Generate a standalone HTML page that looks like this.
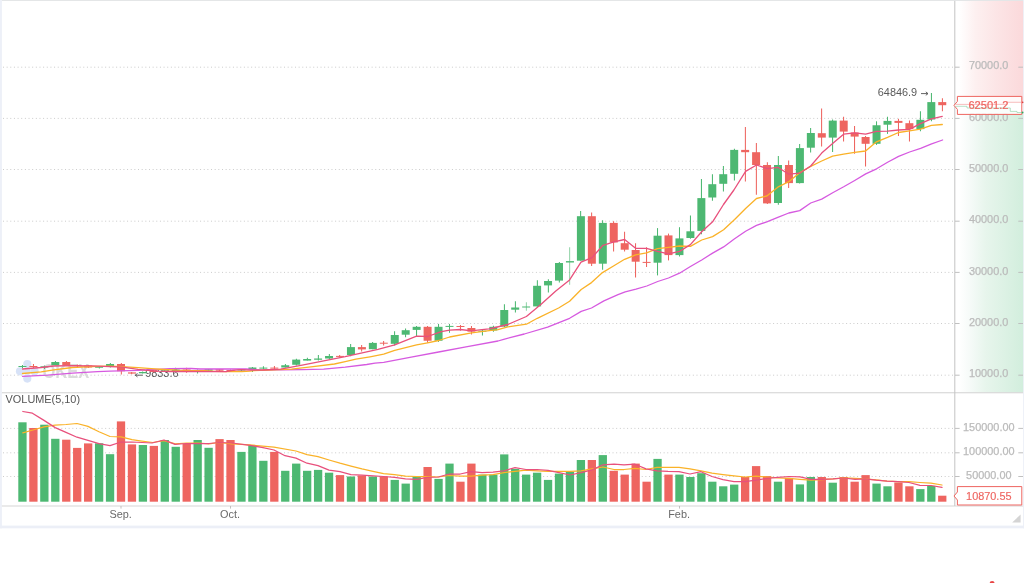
<!DOCTYPE html>
<html lang="en"><head><meta charset="utf-8"><title>Kline chart</title>
<style>
html,body{margin:0;padding:0;background:#fff;}
body{width:1024px;height:583px;overflow:hidden;position:relative;font-family:"Liberation Sans",Arial,sans-serif;}
svg{position:absolute;left:0;top:0;display:block;}
svg text{font-family:"Liberation Sans",Arial,sans-serif;font-size:10.9px;}
</style></head><body>
<svg width="1024" height="583" viewBox="0 0 1024 583">
<defs>
<linearGradient id="gr" x1="0" y1="0" x2="1" y2="0"><stop offset="0" stop-color="#ffffff"/><stop offset="0.06" stop-color="#ffffff"/><stop offset="0.3" stop-color="#fdf0f0"/><stop offset="0.6" stop-color="#fce5e6"/><stop offset="1" stop-color="#fbd9db"/></linearGradient>
<linearGradient id="gg" x1="0" y1="0" x2="1" y2="0"><stop offset="0" stop-color="#ffffff"/><stop offset="0.06" stop-color="#ffffff"/><stop offset="0.2" stop-color="#f7fbf9"/><stop offset="0.45" stop-color="#e7f5ec"/><stop offset="1" stop-color="#d2eedd"/></linearGradient>
</defs>
<rect x="0" y="0" width="1024" height="583" fill="#ffffff"/>
<rect x="0" y="0" width="1.9" height="528.3" fill="#edf0f8"/>
<rect x="1023.1" y="0" width="0.9" height="528.3" fill="#edf0f8"/>
<rect x="1.9" y="0" width="1021.2" height="0.95" fill="#e3e5e6"/>
<rect x="0" y="525.6" width="1024" height="2.7" fill="#eceff7"/>
<path d="M955,1 H1023.1 V102.3 H1007 V104.4 H955 Z" fill="url(#gr)"/>
<path d="M955,106.3 H967 V108 H1010.3 V111.4 H1017 V112.5 H1023.1 V392.3 H955 Z" fill="url(#gg)"/>
<rect x="1.9" y="392.3" width="1021.2" height="0.95" fill="#cfcfcf"/>
<rect x="1.9" y="505.4" width="1021.2" height="1.2" fill="#dcdcdc"/>
<rect x="954.3" y="0.9" width="1" height="505" fill="#c4c4c4"/>
<g stroke="#c6c6c6" stroke-width="0.95" stroke-dasharray="0.95 2.7" fill="none">
<line x1="3" y1="67.2" x2="953" y2="67.2"/>
<line x1="3" y1="118.4" x2="953" y2="118.4"/>
<line x1="3" y1="169.5" x2="953" y2="169.5"/>
<line x1="3" y1="221.2" x2="953" y2="221.2"/>
<line x1="3" y1="272.4" x2="953" y2="272.4"/>
<line x1="3" y1="323.5" x2="953" y2="323.5"/>
<line x1="3" y1="375.2" x2="953" y2="375.2"/>
<line x1="3" y1="428.4" x2="953" y2="428.4"/>
<line x1="3" y1="452.8" x2="953" y2="452.8"/>
<line x1="3" y1="476.5" x2="953" y2="476.5"/>
</g>
<g stroke="#bdbdbd" stroke-width="0.95">
<line x1="955" y1="67.2" x2="959.6" y2="67.2"/>
<line x1="1018.3" y1="67.2" x2="1023" y2="67.2"/>
<line x1="955" y1="118.4" x2="959.6" y2="118.4"/>
<line x1="1018.3" y1="118.4" x2="1023" y2="118.4"/>
<line x1="955" y1="169.5" x2="959.6" y2="169.5"/>
<line x1="1018.3" y1="169.5" x2="1023" y2="169.5"/>
<line x1="955" y1="221.2" x2="959.6" y2="221.2"/>
<line x1="1018.3" y1="221.2" x2="1023" y2="221.2"/>
<line x1="955" y1="272.4" x2="959.6" y2="272.4"/>
<line x1="1018.3" y1="272.4" x2="1023" y2="272.4"/>
<line x1="955" y1="323.5" x2="959.6" y2="323.5"/>
<line x1="1018.3" y1="323.5" x2="1023" y2="323.5"/>
<line x1="955" y1="375.2" x2="959.6" y2="375.2"/>
<line x1="1018.3" y1="375.2" x2="1023" y2="375.2"/>
<line x1="955" y1="428.4" x2="959.6" y2="428.4"/>
<line x1="1018.3" y1="428.4" x2="1023" y2="428.4"/>
<line x1="955" y1="452.8" x2="959.6" y2="452.8"/>
<line x1="1018.3" y1="452.8" x2="1023" y2="452.8"/>
<line x1="955" y1="476.5" x2="959.6" y2="476.5"/>
<line x1="1018.3" y1="476.5" x2="1023" y2="476.5"/>
<line x1="121.0" y1="506" x2="121.0" y2="508.6"/>
<line x1="230.5" y1="506" x2="230.5" y2="508.6"/>
<line x1="679.5" y1="506" x2="679.5" y2="508.6"/>
</g>
<g fill="#bbbbbb" stroke="#bbbbbb" stroke-width="0.25" text-anchor="middle">
<text x="988.6" y="69.3">70000.0</text>
<text x="988.6" y="120.5">60000.0</text>
<text x="988.6" y="171.6">50000.0</text>
<text x="988.6" y="223.3">40000.0</text>
<text x="988.6" y="274.5">30000.0</text>
<text x="988.6" y="325.6">20000.0</text>
<text x="988.6" y="377.3">10000.0</text>
<text x="988.8" y="430.7">150000.00</text>
<text x="988.8" y="455.1">100000.00</text>
<text x="988.8" y="478.8">50000.00</text>
</g>
<g opacity="0.95">
<g fill="#d5e1f7">
<circle cx="27.3" cy="364" r="4.1"/><circle cx="27.3" cy="378.6" r="4.1"/><circle cx="20" cy="371.3" r="4.1"/><circle cx="34.6" cy="371.3" r="4.1"/><circle cx="27.3" cy="371.3" r="3.4"/>
</g>
<text x="42.4" y="378.3" fill="#dadada" textLength="46.8" lengthAdjust="spacingAndGlyphs" style="font-size:19.5px;font-weight:bold">OKEX</text>
</g>
<text x="145.2" y="377.4" fill="#5a5a5a">9833.6</text>
<path d="M135.2,375.2 H142.8 M135.2,375.2 L137.5,373.5 M135.2,375.2 L137.5,376.9" stroke="#5a5a5a" stroke-width="0.95" fill="none"/>
<text x="877.8" y="96.0" fill="#5a5a5a">64846.9</text>
<path d="M921,93.6 H928 M928,93.6 L925.8,91.9 M928,93.6 L925.8,95.3" stroke="#5a5a5a" stroke-width="0.95" fill="none"/>
<line x1="22.48" y1="365.0" x2="22.48" y2="368.0" stroke="#4db872" stroke-width="1.05"/>
<rect x="18.45" y="366.0" width="8.0" height="1.00" fill="#4db872"/>
<line x1="33.47" y1="364.0" x2="33.47" y2="368.0" stroke="#ee6560" stroke-width="1.05"/>
<rect x="29.40" y="366.0" width="8.0" height="1.00" fill="#ee6560"/>
<line x1="44.45" y1="365.5" x2="44.45" y2="369.0" stroke="#4db872" stroke-width="1.05"/>
<rect x="40.35" y="366.3" width="8.0" height="1.20" fill="#4db872"/>
<line x1="55.44" y1="361.0" x2="55.44" y2="365.3" stroke="#4db872" stroke-width="1.05"/>
<rect x="51.30" y="362.0" width="8.0" height="3.30" fill="#4db872"/>
<line x1="66.42" y1="361.0" x2="66.42" y2="365.3" stroke="#ee6560" stroke-width="1.05"/>
<rect x="62.25" y="362.0" width="8.0" height="3.30" fill="#ee6560"/>
<line x1="77.41" y1="364.4" x2="77.41" y2="366.9" stroke="#ee6560" stroke-width="1.05"/>
<rect x="73.20" y="365.0" width="8.0" height="1.00" fill="#ee6560"/>
<line x1="88.39" y1="365.0" x2="88.39" y2="368.0" stroke="#ee6560" stroke-width="1.05"/>
<rect x="84.15" y="365.5" width="8.0" height="2.00" fill="#ee6560"/>
<line x1="99.38" y1="366.0" x2="99.38" y2="368.5" stroke="#4db872" stroke-width="1.05"/>
<rect x="95.10" y="366.5" width="8.0" height="1.25" fill="#4db872"/>
<line x1="110.36" y1="363.1" x2="110.36" y2="367.5" stroke="#4db872" stroke-width="1.05"/>
<rect x="106.05" y="364.0" width="8.0" height="2.00" fill="#4db872"/>
<line x1="121.35" y1="363.0" x2="121.35" y2="374.4" stroke="#ee6560" stroke-width="1.05"/>
<rect x="117.00" y="364.0" width="8.0" height="7.25" fill="#ee6560"/>
<line x1="131.63" y1="372.0" x2="131.63" y2="374.3" stroke="#ee6560" stroke-width="1.05"/>
<rect x="127.95" y="372.4" width="8.0" height="1.20" fill="#ee6560"/>
<line x1="142.62" y1="371.5" x2="142.62" y2="373.5" stroke="#4db872" stroke-width="1.05"/>
<rect x="138.90" y="372.0" width="8.0" height="1.30" fill="#4db872"/>
<line x1="153.60" y1="370.0" x2="153.60" y2="372.5" stroke="#ee6560" stroke-width="1.05"/>
<rect x="149.85" y="370.5" width="8.0" height="1.50" fill="#ee6560"/>
<line x1="164.59" y1="370.0" x2="164.59" y2="372.0" stroke="#4db872" stroke-width="1.05"/>
<rect x="160.80" y="370.3" width="8.0" height="1.50" fill="#4db872"/>
<line x1="175.57" y1="367.75" x2="175.57" y2="371.5" stroke="#4db872" stroke-width="1.05"/>
<rect x="171.75" y="369.5" width="8.0" height="1.50" fill="#4db872"/>
<line x1="186.56" y1="367.75" x2="186.56" y2="372.75" stroke="#ee6560" stroke-width="1.05"/>
<rect x="182.70" y="369.5" width="8.0" height="1.60" fill="#ee6560"/>
<line x1="197.54" y1="369.5" x2="197.54" y2="373.6" stroke="#4db872" stroke-width="1.05"/>
<rect x="193.65" y="370.3" width="8.0" height="1.20" fill="#4db872"/>
<line x1="208.53" y1="369.0" x2="208.53" y2="371.75" stroke="#4db872" stroke-width="1.05"/>
<rect x="204.60" y="369.25" width="8.0" height="1.50" fill="#4db872"/>
<line x1="219.51" y1="369.0" x2="219.51" y2="371.2" stroke="#ee6560" stroke-width="1.05"/>
<rect x="215.55" y="369.25" width="8.0" height="1.50" fill="#ee6560"/>
<line x1="230.50" y1="369.5" x2="230.50" y2="371.5" stroke="#ee6560" stroke-width="1.05"/>
<rect x="226.50" y="370.0" width="8.0" height="1.00" fill="#ee6560"/>
<line x1="241.48" y1="369.0" x2="241.48" y2="371.1" stroke="#4db872" stroke-width="1.05"/>
<rect x="237.45" y="369.3" width="8.0" height="1.20" fill="#4db872"/>
<line x1="252.47" y1="367.0" x2="252.47" y2="371.9" stroke="#4db872" stroke-width="1.05"/>
<rect x="248.40" y="367.5" width="8.0" height="1.90" fill="#4db872"/>
<line x1="263.45" y1="366.25" x2="263.45" y2="369.0" stroke="#4db872" stroke-width="1.05"/>
<rect x="259.35" y="367.6" width="8.0" height="1.00" fill="#4db872"/>
<line x1="274.44" y1="366.0" x2="274.44" y2="369.0" stroke="#ee6560" stroke-width="1.05"/>
<rect x="270.30" y="367.6" width="8.0" height="1.00" fill="#ee6560"/>
<line x1="285.42" y1="364.0" x2="285.42" y2="367.5" stroke="#4db872" stroke-width="1.05"/>
<rect x="281.25" y="365.25" width="8.0" height="2.25" fill="#4db872"/>
<line x1="296.41" y1="358.75" x2="296.41" y2="365.6" stroke="#4db872" stroke-width="1.05"/>
<rect x="292.20" y="359.6" width="8.0" height="5.15" fill="#4db872"/>
<line x1="307.39" y1="357.75" x2="307.39" y2="360.6" stroke="#4db872" stroke-width="1.05"/>
<rect x="303.15" y="359.0" width="8.0" height="1.60" fill="#4db872"/>
<line x1="318.38" y1="355.0" x2="318.38" y2="360.6" stroke="#4db872" stroke-width="1.05"/>
<rect x="314.10" y="358.5" width="8.0" height="1.25" fill="#4db872"/>
<line x1="329.36" y1="354.1" x2="329.36" y2="359.4" stroke="#4db872" stroke-width="1.05"/>
<rect x="325.05" y="356.0" width="8.0" height="2.50" fill="#4db872"/>
<line x1="339.65" y1="355.0" x2="339.65" y2="357.5" stroke="#ee6560" stroke-width="1.05"/>
<rect x="336.00" y="355.9" width="8.0" height="1.00" fill="#ee6560"/>
<line x1="350.63" y1="344.0" x2="350.63" y2="356.25" stroke="#4db872" stroke-width="1.05"/>
<rect x="346.95" y="347.1" width="8.0" height="7.90" fill="#4db872"/>
<line x1="361.62" y1="345.0" x2="361.62" y2="351.5" stroke="#ee6560" stroke-width="1.05"/>
<rect x="357.90" y="347.1" width="8.0" height="2.30" fill="#ee6560"/>
<line x1="372.61" y1="342.1" x2="372.61" y2="349.2" stroke="#4db872" stroke-width="1.05"/>
<rect x="368.85" y="342.9" width="8.0" height="6.30" fill="#4db872"/>
<line x1="383.59" y1="341.0" x2="383.59" y2="345.6" stroke="#ee6560" stroke-width="1.05"/>
<rect x="379.80" y="342.7" width="8.0" height="1.00" fill="#ee6560"/>
<line x1="394.57" y1="331.2" x2="394.57" y2="345.6" stroke="#4db872" stroke-width="1.05"/>
<rect x="390.75" y="335.0" width="8.0" height="8.80" fill="#4db872"/>
<line x1="405.56" y1="328.4" x2="405.56" y2="337.3" stroke="#4db872" stroke-width="1.05"/>
<rect x="401.70" y="330.2" width="8.0" height="4.50" fill="#4db872"/>
<line x1="416.54" y1="325.9" x2="416.54" y2="336.0" stroke="#4db872" stroke-width="1.05"/>
<rect x="412.65" y="326.8" width="8.0" height="3.10" fill="#4db872"/>
<line x1="427.53" y1="326.0" x2="427.53" y2="342.8" stroke="#ee6560" stroke-width="1.05"/>
<rect x="423.60" y="326.8" width="8.0" height="13.95" fill="#ee6560"/>
<line x1="438.51" y1="324.0" x2="438.51" y2="341.9" stroke="#4db872" stroke-width="1.05"/>
<rect x="434.55" y="326.8" width="8.0" height="13.95" fill="#4db872"/>
<line x1="449.50" y1="324.0" x2="449.50" y2="332.8" stroke="#4db872" stroke-width="1.05"/>
<rect x="445.50" y="325.9" width="8.0" height="1.00" fill="#4db872"/>
<line x1="460.48" y1="325.0" x2="460.48" y2="330.7" stroke="#ee6560" stroke-width="1.05"/>
<rect x="456.45" y="326.0" width="8.0" height="1.00" fill="#ee6560"/>
<line x1="471.47" y1="326.0" x2="471.47" y2="334.6" stroke="#ee6560" stroke-width="1.05"/>
<rect x="467.40" y="328.0" width="8.0" height="3.60" fill="#ee6560"/>
<line x1="482.45" y1="329.8" x2="482.45" y2="335.5" stroke="#4db872" stroke-width="1.05"/>
<rect x="478.35" y="330.7" width="8.0" height="1.00" fill="#4db872"/>
<line x1="493.44" y1="325.7" x2="493.44" y2="331.8" stroke="#4db872" stroke-width="1.05"/>
<rect x="489.30" y="326.8" width="8.0" height="3.70" fill="#4db872"/>
<line x1="504.42" y1="304.2" x2="504.42" y2="327.0" stroke="#4db872" stroke-width="1.05"/>
<rect x="500.25" y="310.0" width="8.0" height="16.50" fill="#4db872"/>
<line x1="515.41" y1="301.2" x2="515.41" y2="312.5" stroke="#4db872" stroke-width="1.05"/>
<rect x="511.20" y="307.5" width="8.0" height="2.20" fill="#4db872"/>
<line x1="526.39" y1="302.2" x2="526.39" y2="310.75" stroke="#4db872" stroke-width="1.05" opacity="0.6"/>
<rect x="522.15" y="306.5" width="8.0" height="1.00" fill="#4db872"/>
<line x1="537.38" y1="280.3" x2="537.38" y2="306.8" stroke="#4db872" stroke-width="1.05"/>
<rect x="533.10" y="285.8" width="8.0" height="20.60" fill="#4db872"/>
<line x1="548.37" y1="279.2" x2="548.37" y2="292.6" stroke="#4db872" stroke-width="1.05"/>
<rect x="544.05" y="281.0" width="8.0" height="4.40" fill="#4db872"/>
<line x1="559.35" y1="262.0" x2="559.35" y2="282.6" stroke="#4db872" stroke-width="1.05"/>
<rect x="555.00" y="263.0" width="8.0" height="17.60" fill="#4db872"/>
<line x1="569.63" y1="247.3" x2="569.63" y2="284.7" stroke="#4db872" stroke-width="1.05" opacity="0.6"/>
<rect x="565.95" y="261.1" width="8.0" height="1.40" fill="#4db872"/>
<line x1="580.62" y1="211.0" x2="580.62" y2="260.7" stroke="#4db872" stroke-width="1.05"/>
<rect x="576.90" y="216.2" width="8.0" height="44.50" fill="#4db872"/>
<line x1="591.61" y1="212.6" x2="591.61" y2="266.1" stroke="#ee6560" stroke-width="1.05"/>
<rect x="587.85" y="216.2" width="8.0" height="47.50" fill="#ee6560"/>
<line x1="602.59" y1="220.3" x2="602.59" y2="269.7" stroke="#4db872" stroke-width="1.05"/>
<rect x="598.80" y="222.9" width="8.0" height="40.80" fill="#4db872"/>
<line x1="613.58" y1="221.3" x2="613.58" y2="251.5" stroke="#ee6560" stroke-width="1.05"/>
<rect x="609.75" y="222.9" width="8.0" height="19.60" fill="#ee6560"/>
<line x1="624.56" y1="231.8" x2="624.56" y2="251.4" stroke="#ee6560" stroke-width="1.05"/>
<rect x="620.70" y="243.2" width="8.0" height="6.50" fill="#ee6560"/>
<line x1="635.54" y1="243.2" x2="635.54" y2="277.5" stroke="#ee6560" stroke-width="1.05"/>
<rect x="631.65" y="250.0" width="8.0" height="11.70" fill="#ee6560"/>
<line x1="646.53" y1="247.3" x2="646.53" y2="266.9" stroke="#ee6560" stroke-width="1.05"/>
<rect x="642.60" y="261.9" width="8.0" height="1.00" fill="#ee6560"/>
<line x1="657.51" y1="228.1" x2="657.51" y2="275.4" stroke="#4db872" stroke-width="1.05"/>
<rect x="653.55" y="235.7" width="8.0" height="27.00" fill="#4db872"/>
<line x1="668.50" y1="233.6" x2="668.50" y2="260.4" stroke="#ee6560" stroke-width="1.05"/>
<rect x="664.50" y="235.4" width="8.0" height="19.70" fill="#ee6560"/>
<line x1="679.49" y1="227.2" x2="679.49" y2="256.5" stroke="#4db872" stroke-width="1.05"/>
<rect x="675.45" y="238.4" width="8.0" height="16.70" fill="#4db872"/>
<line x1="690.47" y1="215.4" x2="690.47" y2="238.7" stroke="#4db872" stroke-width="1.05"/>
<rect x="686.40" y="231.3" width="8.0" height="6.70" fill="#4db872"/>
<line x1="701.45" y1="179.0" x2="701.45" y2="234.2" stroke="#4db872" stroke-width="1.05"/>
<rect x="697.35" y="198.1" width="8.0" height="32.80" fill="#4db872"/>
<line x1="712.44" y1="174.2" x2="712.44" y2="200.7" stroke="#4db872" stroke-width="1.05"/>
<rect x="708.30" y="184.2" width="8.0" height="13.30" fill="#4db872"/>
<line x1="723.42" y1="166.0" x2="723.42" y2="191.6" stroke="#4db872" stroke-width="1.05"/>
<rect x="719.25" y="174.2" width="8.0" height="9.60" fill="#4db872"/>
<line x1="734.41" y1="148.8" x2="734.41" y2="180.6" stroke="#4db872" stroke-width="1.05"/>
<rect x="730.20" y="149.9" width="8.0" height="23.90" fill="#4db872"/>
<line x1="745.39" y1="126.9" x2="745.39" y2="181.5" stroke="#ee6560" stroke-width="1.05"/>
<rect x="741.15" y="149.9" width="8.0" height="2.30" fill="#ee6560"/>
<line x1="756.38" y1="143.0" x2="756.38" y2="194.8" stroke="#ee6560" stroke-width="1.05"/>
<rect x="752.10" y="152.2" width="8.0" height="12.80" fill="#ee6560"/>
<line x1="767.37" y1="162.2" x2="767.37" y2="204.1" stroke="#ee6560" stroke-width="1.05"/>
<rect x="763.05" y="165.0" width="8.0" height="38.40" fill="#ee6560"/>
<line x1="778.35" y1="155.9" x2="778.35" y2="204.8" stroke="#4db872" stroke-width="1.05"/>
<rect x="774.00" y="165.0" width="8.0" height="38.00" fill="#4db872"/>
<line x1="788.63" y1="160.5" x2="788.63" y2="187.9" stroke="#ee6560" stroke-width="1.05"/>
<rect x="784.95" y="165.0" width="8.0" height="18.10" fill="#ee6560"/>
<line x1="799.62" y1="144.0" x2="799.62" y2="183.6" stroke="#4db872" stroke-width="1.05"/>
<rect x="795.90" y="148.1" width="8.0" height="35.00" fill="#4db872"/>
<line x1="810.60" y1="128.0" x2="810.60" y2="152.6" stroke="#4db872" stroke-width="1.05"/>
<rect x="806.85" y="133.0" width="8.0" height="14.70" fill="#4db872"/>
<line x1="821.59" y1="108.5" x2="821.59" y2="146.5" stroke="#ee6560" stroke-width="1.05"/>
<rect x="817.80" y="133.2" width="8.0" height="4.40" fill="#ee6560"/>
<line x1="832.58" y1="119.5" x2="832.58" y2="152.0" stroke="#4db872" stroke-width="1.05"/>
<rect x="828.75" y="120.6" width="8.0" height="17.00" fill="#4db872"/>
<line x1="843.56" y1="116.75" x2="843.56" y2="141.4" stroke="#ee6560" stroke-width="1.05"/>
<rect x="839.70" y="120.6" width="8.0" height="11.00" fill="#ee6560"/>
<line x1="854.54" y1="125.9" x2="854.54" y2="153.8" stroke="#ee6560" stroke-width="1.05"/>
<rect x="850.65" y="132.5" width="8.0" height="4.10" fill="#ee6560"/>
<line x1="865.53" y1="136.0" x2="865.53" y2="166.5" stroke="#ee6560" stroke-width="1.05"/>
<rect x="861.60" y="137.0" width="8.0" height="6.80" fill="#ee6560"/>
<line x1="876.51" y1="121.3" x2="876.51" y2="144.9" stroke="#4db872" stroke-width="1.05"/>
<rect x="872.55" y="125.25" width="8.0" height="18.55" fill="#4db872"/>
<line x1="887.50" y1="116.75" x2="887.50" y2="133.9" stroke="#4db872" stroke-width="1.05"/>
<rect x="883.50" y="120.9" width="8.0" height="3.80" fill="#4db872"/>
<line x1="898.48" y1="118.8" x2="898.48" y2="136.0" stroke="#ee6560" stroke-width="1.05"/>
<rect x="894.45" y="120.9" width="8.0" height="2.00" fill="#ee6560"/>
<line x1="909.47" y1="120.5" x2="909.47" y2="141.4" stroke="#ee6560" stroke-width="1.05"/>
<rect x="905.40" y="123.2" width="8.0" height="5.90" fill="#ee6560"/>
<line x1="920.45" y1="111.3" x2="920.45" y2="131.2" stroke="#4db872" stroke-width="1.05"/>
<rect x="916.35" y="119.8" width="8.0" height="9.30" fill="#4db872"/>
<line x1="931.44" y1="93.0" x2="931.44" y2="121.3" stroke="#4db872" stroke-width="1.05"/>
<rect x="927.30" y="102.1" width="8.0" height="17.40" fill="#4db872"/>
<line x1="942.42" y1="98.3" x2="942.42" y2="111.2" stroke="#ee6560" stroke-width="1.05"/>
<rect x="938.25" y="102.1" width="8.0" height="3.10" fill="#ee6560"/>
<polyline points="22.5,376.3 47.5,375.1 72.5,373.2 97.5,371.6 110.0,371.1 138.0,370.3 145.0,369.9 158.0,369.3 170.0,368.7 191.0,368.5 200.0,369.0 246.0,369.0 256.0,369.6 262.0,370.0 302.0,369.6 323.7,369.1 345.2,367.1 366.7,364.5 375.0,363.2 383.7,362.3 411.2,357.2 438.6,352.0 466.0,346.9 498.0,341.0 503.7,339.3 524.3,334.0 547.6,327.2 569.6,318.3 581.2,311.4 591.5,308.0 603.9,300.9 618.0,294.6 625.2,291.8 636.0,289.2 646.8,286.0 657.7,281.5 668.5,278.0 679.5,273.2 690.0,266.8 701.7,260.0 712.6,253.1 723.6,246.9 734.6,238.7 745.6,231.2 756.5,225.4 766.8,221.8 777.8,217.4 788.8,213.0 799.7,210.6 810.7,203.0 821.7,199.1 832.7,192.7 843.7,186.8 854.7,180.5 865.7,173.9 876.6,168.8 887.6,162.2 898.6,156.4 909.6,152.0 920.6,148.3 931.6,143.9 942.6,140.0" fill="none" stroke="#d65ae0" stroke-width="1.3" stroke-linejoin="round" stroke-linecap="round"/>
<polyline points="22.5,373.5 41.2,371.9 53.8,369.8 72.5,367.5 91.2,366.5 110.0,366.2 122.5,366.6 126.0,366.8 138.0,367.6 151.4,368.7 164.0,369.5 176.8,370.2 191.0,370.6 204.0,370.6 215.0,371.3 226.0,371.7 242.0,371.7 250.0,371.2 254.0,370.6 291.5,369.2 313.0,366.6 334.4,364.0 345.2,361.7 355.9,359.2 370.0,356.8 383.7,354.2 394.7,350.4 416.6,344.9 427.6,342.8 438.6,340.5 449.6,337.0 471.5,332.9 489.3,330.7 498.0,329.7 507.8,326.9 526.4,324.2 537.3,318.3 558.6,308.0 569.6,301.2 581.2,289.5 591.5,282.6 602.5,272.6 613.9,265.8 624.6,259.3 635.6,254.9 646.5,252.8 657.5,248.7 668.5,247.3 679.5,246.0 690.4,246.4 701.7,240.0 712.6,236.6 723.6,229.8 734.6,219.5 745.6,208.5 756.5,198.5 766.8,196.0 777.8,187.2 788.8,181.7 799.7,172.8 810.7,166.4 821.7,161.0 832.6,156.1 843.6,154.2 854.6,152.4 865.6,151.0 876.5,141.8 887.5,137.3 898.5,132.5 909.5,130.9 920.4,129.1 931.4,125.4 942.3,124.5" fill="none" stroke="#fab228" stroke-width="1.3" stroke-linejoin="round" stroke-linecap="round"/>
<polyline points="22.5,369.0 41.2,367.5 53.8,366.0 72.5,365.6 91.2,365.9 110.0,366.7 122.5,367.2 138.0,369.4 145.0,370.2 157.7,371.2 170.4,371.5 191.0,371.5 226.0,371.6 233.0,370.4 241.0,369.6 250.0,370.1 263.0,370.0 280.7,369.2 302.2,365.2 323.7,360.9 345.2,356.6 366.7,351.8 378.0,349.3 394.7,344.9 416.6,336.2 427.6,336.5 441.3,331.6 449.6,330.2 460.5,329.5 471.5,330.9 479.7,329.8 489.0,328.8 493.0,328.0 507.8,324.5 526.4,316.5 540.8,304.6 555.8,290.9 569.6,279.9 581.0,262.2 592.0,257.6 603.0,245.3 613.9,241.8 624.6,239.5 635.6,248.3 646.5,248.3 657.5,251.4 668.5,253.8 679.5,251.4 690.4,244.6 701.7,231.8 712.6,221.8 723.5,204.5 733.9,190.0 745.6,171.4 756.5,165.0 767.5,168.7 777.8,167.3 788.8,174.2 799.7,173.2 810.7,166.0 821.7,153.1 832.6,143.6 843.6,134.2 854.6,132.8 865.6,134.2 876.5,131.4 887.5,131.2 898.5,130.0 909.5,129.4 920.4,123.6 931.4,118.8 942.3,116.3" fill="none" stroke="#e8507c" stroke-width="1.3" stroke-linejoin="round" stroke-linecap="round"/>
<rect x="18.30" y="422.3" width="8.3" height="79.40" fill="#4db872"/>
<rect x="29.25" y="428" width="8.3" height="73.70" fill="#ee6560"/>
<rect x="40.20" y="424.7" width="8.3" height="77.00" fill="#4db872"/>
<rect x="51.15" y="438.8" width="8.3" height="62.90" fill="#4db872"/>
<rect x="62.10" y="439.7" width="8.3" height="62.00" fill="#ee6560"/>
<rect x="73.05" y="447.9" width="8.3" height="53.80" fill="#ee6560"/>
<rect x="84.00" y="443.4" width="8.3" height="58.30" fill="#ee6560"/>
<rect x="94.95" y="443.3" width="8.3" height="58.40" fill="#4db872"/>
<rect x="105.90" y="454.2" width="8.3" height="47.50" fill="#4db872"/>
<rect x="116.85" y="421.4" width="8.3" height="80.30" fill="#ee6560"/>
<rect x="127.80" y="444.4" width="8.3" height="57.30" fill="#ee6560"/>
<rect x="138.75" y="445" width="8.3" height="56.70" fill="#4db872"/>
<rect x="149.70" y="445.9" width="8.3" height="55.80" fill="#ee6560"/>
<rect x="160.65" y="440" width="8.3" height="61.70" fill="#4db872"/>
<rect x="171.60" y="446.8" width="8.3" height="54.90" fill="#4db872"/>
<rect x="182.55" y="443.8" width="8.3" height="57.90" fill="#ee6560"/>
<rect x="193.50" y="440" width="8.3" height="61.70" fill="#4db872"/>
<rect x="204.45" y="447.8" width="8.3" height="53.90" fill="#4db872"/>
<rect x="215.40" y="439.1" width="8.3" height="62.60" fill="#ee6560"/>
<rect x="226.35" y="440" width="8.3" height="61.70" fill="#ee6560"/>
<rect x="237.30" y="451.9" width="8.3" height="49.80" fill="#4db872"/>
<rect x="248.25" y="445.3" width="8.3" height="56.40" fill="#4db872"/>
<rect x="259.20" y="460.8" width="8.3" height="40.90" fill="#4db872"/>
<rect x="270.15" y="451.9" width="8.3" height="49.80" fill="#ee6560"/>
<rect x="281.10" y="470.8" width="8.3" height="30.90" fill="#4db872"/>
<rect x="292.05" y="463.6" width="8.3" height="38.10" fill="#4db872"/>
<rect x="303.00" y="470.8" width="8.3" height="30.90" fill="#4db872"/>
<rect x="313.95" y="469.9" width="8.3" height="31.80" fill="#4db872"/>
<rect x="324.90" y="472.7" width="8.3" height="29.00" fill="#4db872"/>
<rect x="335.85" y="475.1" width="8.3" height="26.60" fill="#ee6560"/>
<rect x="346.80" y="476.5" width="8.3" height="25.20" fill="#4db872"/>
<rect x="357.75" y="475.5" width="8.3" height="26.20" fill="#ee6560"/>
<rect x="368.70" y="476.5" width="8.3" height="25.20" fill="#4db872"/>
<rect x="379.65" y="476.5" width="8.3" height="25.20" fill="#ee6560"/>
<rect x="390.60" y="479.9" width="8.3" height="21.80" fill="#4db872"/>
<rect x="401.55" y="483.6" width="8.3" height="18.10" fill="#4db872"/>
<rect x="412.50" y="477" width="8.3" height="24.70" fill="#4db872"/>
<rect x="423.45" y="467" width="8.3" height="34.70" fill="#ee6560"/>
<rect x="434.40" y="478.9" width="8.3" height="22.80" fill="#4db872"/>
<rect x="445.35" y="463.6" width="8.3" height="38.10" fill="#4db872"/>
<rect x="456.30" y="481.7" width="8.3" height="20.00" fill="#ee6560"/>
<rect x="467.25" y="463.6" width="8.3" height="38.10" fill="#ee6560"/>
<rect x="478.20" y="474.6" width="8.3" height="27.10" fill="#4db872"/>
<rect x="489.15" y="474.6" width="8.3" height="27.10" fill="#4db872"/>
<rect x="500.10" y="454.4" width="8.3" height="47.30" fill="#4db872"/>
<rect x="511.05" y="468.9" width="8.3" height="32.80" fill="#4db872"/>
<rect x="522.00" y="474.6" width="8.3" height="27.10" fill="#4db872"/>
<rect x="532.95" y="472.7" width="8.3" height="29.00" fill="#4db872"/>
<rect x="543.90" y="479.9" width="8.3" height="21.80" fill="#4db872"/>
<rect x="554.85" y="473.6" width="8.3" height="28.10" fill="#4db872"/>
<rect x="565.80" y="471.7" width="8.3" height="30.00" fill="#4db872"/>
<rect x="576.75" y="460" width="8.3" height="41.70" fill="#4db872"/>
<rect x="587.70" y="460" width="8.3" height="41.70" fill="#ee6560"/>
<rect x="598.65" y="455.1" width="8.3" height="46.60" fill="#4db872"/>
<rect x="609.60" y="470.8" width="8.3" height="30.90" fill="#ee6560"/>
<rect x="620.55" y="474.6" width="8.3" height="27.10" fill="#ee6560"/>
<rect x="631.50" y="463.6" width="8.3" height="38.10" fill="#ee6560"/>
<rect x="642.45" y="481.7" width="8.3" height="20.00" fill="#ee6560"/>
<rect x="653.40" y="458.9" width="8.3" height="42.80" fill="#4db872"/>
<rect x="664.35" y="474.6" width="8.3" height="27.10" fill="#ee6560"/>
<rect x="675.30" y="474.6" width="8.3" height="27.10" fill="#4db872"/>
<rect x="686.25" y="477" width="8.3" height="24.70" fill="#4db872"/>
<rect x="697.20" y="473.2" width="8.3" height="28.50" fill="#4db872"/>
<rect x="708.15" y="481.7" width="8.3" height="20.00" fill="#4db872"/>
<rect x="719.10" y="486.3" width="8.3" height="15.40" fill="#4db872"/>
<rect x="730.05" y="484.6" width="8.3" height="17.10" fill="#4db872"/>
<rect x="741.00" y="477" width="8.3" height="24.70" fill="#ee6560"/>
<rect x="751.95" y="466.1" width="8.3" height="35.60" fill="#ee6560"/>
<rect x="762.90" y="476.1" width="8.3" height="25.60" fill="#ee6560"/>
<rect x="773.85" y="481.7" width="8.3" height="20.00" fill="#4db872"/>
<rect x="784.80" y="478" width="8.3" height="23.70" fill="#ee6560"/>
<rect x="795.75" y="484.4" width="8.3" height="17.30" fill="#4db872"/>
<rect x="806.70" y="477" width="8.3" height="24.70" fill="#4db872"/>
<rect x="817.65" y="477" width="8.3" height="24.70" fill="#ee6560"/>
<rect x="828.60" y="482.7" width="8.3" height="19.00" fill="#4db872"/>
<rect x="839.55" y="477" width="8.3" height="24.70" fill="#ee6560"/>
<rect x="850.50" y="481.7" width="8.3" height="20.00" fill="#ee6560"/>
<rect x="861.45" y="475.1" width="8.3" height="26.60" fill="#ee6560"/>
<rect x="872.40" y="483.6" width="8.3" height="18.10" fill="#4db872"/>
<rect x="883.35" y="486.3" width="8.3" height="15.40" fill="#4db872"/>
<rect x="894.30" y="482.5" width="8.3" height="19.20" fill="#ee6560"/>
<rect x="905.25" y="486.3" width="8.3" height="15.40" fill="#ee6560"/>
<rect x="916.20" y="489.1" width="8.3" height="12.60" fill="#4db872"/>
<rect x="927.15" y="485.9" width="8.3" height="15.80" fill="#4db872"/>
<rect x="938.10" y="495.7" width="8.3" height="6.00" fill="#ee6560"/>
<polyline points="22.8,432.9 33.0,430.0 44.0,426.9 55.0,425.2 66.0,424.5 77.0,423.5 88.0,426.4 99.0,431.7 110.0,436.5 121.0,436.8 132.0,439.6 140.0,440.8 152.7,442.5 164.0,440.6 175.3,443.8 186.6,443.0 198.0,443.0 209.3,443.8 218.7,442.5 232.0,443.8 250.0,444.9 274.0,447.2 296.0,451.0 307.0,454.7 318.0,456.6 329.0,460.0 340.0,463.2 351.0,466.1 362.0,468.9 373.0,471.4 383.5,473.6 394.5,474.6 405.5,476.1 416.4,476.5 427.4,476.5 438.3,477.0 449.2,475.5 460.2,476.1 471.1,476.1 482.1,475.1 493.0,474.6 504.0,472.7 515.0,471.4 526.0,470.2 537.0,470.8 548.0,471.4 559.0,471.4 570.0,471.4 581.0,470.8 592.0,468.9 603.0,467.0 614.0,469.5 624.0,469.5 635.0,468.3 646.0,469.5 657.0,467.4 668.0,467.4 679.0,467.4 690.0,468.9 701.0,470.8 712.0,473.2 723.0,474.6 734.0,475.9 745.0,477.0 756.0,476.1 767.0,477.0 778.0,477.8 789.0,478.3 800.0,479.3 811.0,480.2 822.0,479.7 833.0,478.9 844.0,477.8 855.0,478.3 865.0,478.9 876.0,479.9 887.0,481.2 898.0,481.6 909.0,481.7 920.0,482.5 931.0,483.1 942.0,485.0" fill="none" stroke="#fab228" stroke-width="1.25" stroke-linejoin="round" stroke-linecap="round"/>
<polyline points="22.8,411.5 32.4,413.2 44.0,420.4 55.2,427.6 66.0,432.4 77.0,437.2 88.0,440.4 99.0,443.7 110.0,445.6 121.0,442.0 132.0,442.0 152.0,443.0 164.0,440.0 175.0,444.4 186.0,443.5 209.0,443.5 219.0,442.5 232.0,443.0 250.0,445.3 263.0,447.6 274.0,450.0 285.0,455.7 296.0,458.1 307.0,463.2 318.0,465.7 329.0,470.2 340.0,471.7 351.0,474.6 362.0,475.1 373.0,475.9 383.5,476.5 394.5,477.4 405.5,478.9 416.4,479.3 427.4,477.4 438.3,477.0 449.2,474.0 460.2,474.0 471.1,471.7 482.1,472.7 493.0,472.1 504.0,470.8 515.0,467.6 526.0,469.5 537.0,469.5 548.0,470.4 559.0,472.7 570.0,475.0 581.0,472.7 592.0,469.9 603.0,464.8 614.0,464.2 624.0,464.8 635.0,464.2 646.0,468.9 657.0,470.8 668.0,471.4 679.0,471.7 690.0,474.0 701.0,471.7 712.0,476.5 723.0,479.7 734.0,481.7 745.0,481.6 756.0,480.2 767.0,478.3 778.0,477.4 789.0,476.5 800.0,476.8 811.0,479.3 822.0,479.3 833.0,478.9 844.0,478.0 855.0,479.3 865.0,478.9 876.0,480.2 887.0,481.2 898.0,481.6 909.0,482.5 920.0,485.3 931.0,485.5 942.0,487.4" fill="none" stroke="#e8507c" stroke-width="1.25" stroke-linejoin="round" stroke-linecap="round"/>
<text x="5.6" y="402.9" fill="#555555">VOLUME(5,10)</text>
<g fill="#6a6a6a" text-anchor="middle">
<text x="120.6" y="518">Sep.</text>
<text x="230.1" y="518">Oct.</text>
<text x="679.1" y="518">Feb.</text>
</g>
<path d="M957.4,96.4 H1021.8 V114.4 H957.4 V109.4 L954,105.4 L957.4,101.4 Z" fill="#ffffff" fill-opacity="0.85" stroke="#ee6560" stroke-width="1"/>
<path d="M955.5,104.4 H1007 V102.3 H1022.5" fill="none" stroke="#f4a5a5" stroke-width="0.9" opacity="0.8"/>
<path d="M955.5,106.3 H967 V108 H1010.3 V111.4 H1017 V112.5 H1022.5" fill="none" stroke="#8fd0a8" stroke-width="0.9" opacity="0.7"/>
<circle cx="1022.6" cy="102.3" r="0.9" fill="#e04040"/><circle cx="1022.6" cy="112.5" r="0.9" fill="#2fa55c"/>
<text x="988.5" y="109.3" fill="#ee6560" stroke="#ee6560" stroke-width="0.2" text-anchor="middle" style="font-size:11.1px">62501.2</text>
<path d="M957.4,486.6 H1021.8 V505 H957.4 V500 L954,496 L957.4,492 Z" fill="#ffffff" stroke="#ee6560" stroke-width="1"/>
<text x="988.8" y="500.1" fill="#ee6560" stroke="#ee6560" stroke-width="0.15" text-anchor="middle">10870.55</text>
<path d="M1012.2,522.4 H1020.6 V514.4 Z" fill="#d4d4d4"/>
<circle cx="992.1" cy="583.4" r="2.5" fill="#e84545"/>
</svg>
</body></html>
